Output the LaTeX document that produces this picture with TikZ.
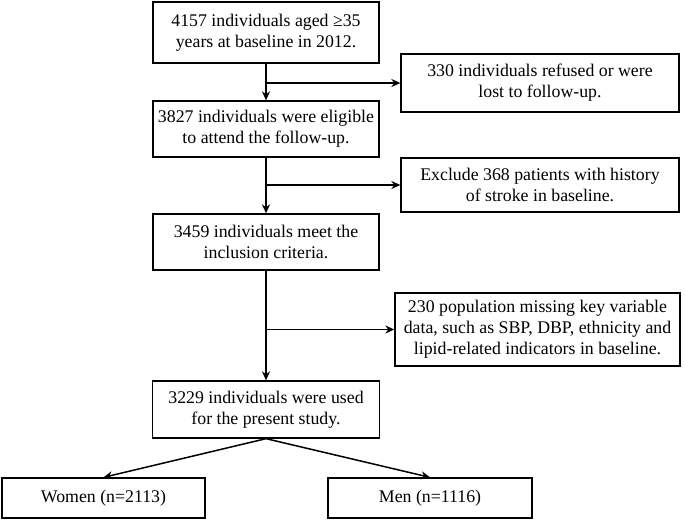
\documentclass[tikz,border=0pt]{standalone}
\usepackage{fontspec}
\setmainfont{Liberation Serif}
\usetikzlibrary{arrows.meta}
\begin{document}
\begin{tikzpicture}[x=1pt, y=-1pt]
        \tikzstyle{boxstyle}=[shape=rectangle, draw, line width=1.3pt, align=center, inner sep=0pt, font=\fontsize{17.8}{21}\selectfont]
        \tikzstyle{arrowstyle}=[line width=1.5pt, -{Stealth[length=9pt, width=8pt]}]

        % fix the frame of the picture
        \useasboundingbox (0, 0) rectangle (685, 520);

        % main column
        \node[boxstyle, minimum width=226pt, minimum height=61pt] at (266, 32.5) (b1) {4157 individuals aged ≥35\\years at baseline in 2012.};
        \node[boxstyle, minimum width=226pt, minimum height=56pt] at (266, 129) (b2) {3827 individuals were eligible\\to attend the follow-up.};
        \node[boxstyle, minimum width=226pt, minimum height=56pt] at (266, 242) (b3) {3459 individuals meet the\\inclusion criteria.};
        \node[boxstyle, minimum width=227pt, minimum height=57pt] at (266, 409.5) (b4) {3229 individuals were used\\for the present study.};

        % excluded boxes on the right
        \node[boxstyle, minimum width=278pt, minimum height=58pt] at (540, 83) (e1) {330 individuals refused or were\\lost to follow-up.};
        \node[boxstyle, minimum width=278pt, minimum height=54pt] at (540, 185) (e2) {Exclude 368 patients with history\\of stroke in baseline.};
        \node[boxstyle, minimum width=285pt, minimum height=73pt] at (537.5, 329.5) (e3) {230 population missing key variable\\data, such as SBP, DBP, ethnicity and\\lipid-related indicators in baseline.};

        % final groups
        \node[boxstyle, minimum width=203pt, minimum height=40pt] at (103.5, 498) (women) {Women (n=2113)};
        \node[boxstyle, minimum width=204pt, minimum height=40pt] at (430, 498) (men) {Men (n=1116)};

        % vertical arrows
        \draw[arrowstyle] (b1) -- (b2);
        \draw[arrowstyle] (b2) -- (b3);
        \draw[arrowstyle] (b3) -- (b4);

        % side arrows to the exclusions
        \draw[arrowstyle] (b1.south |- e1.west) -- (e1.west);
        \draw[arrowstyle] (b2.south |- e2.west) -- (e2.west);
        \draw[arrowstyle] (b3.south |- e3.west) -- (e3.west);

        % split into women and men
        \draw[arrowstyle] (b4.south) -- (women.north);
        \draw[arrowstyle] (b4.south) -- (men.north);
    \end{tikzpicture}
\end{document}
